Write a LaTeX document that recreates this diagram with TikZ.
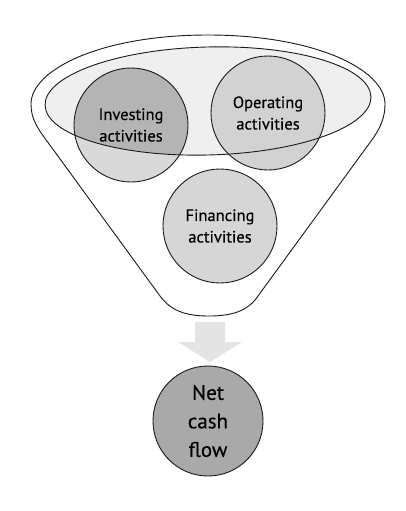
\documentclass[tikz,border=0pt]{standalone}
\usepackage{fontspec}
\newfontfamily\labfont[FakeBold=0.35]{PT Sans}
\definecolor{ellfill}{HTML}{EFEFEF}
\definecolor{invlight}{HTML}{D9D9D9}
\definecolor{invdark}{HTML}{B4B4B4}
\definecolor{opfill}{HTML}{D2D2D2}
\definecolor{finfill}{HTML}{D6D6D6}
\definecolor{netfill}{HTML}{A9A9A9}
\definecolor{arrfill}{HTML}{E4E4E4}
\definecolor{linecol}{HTML}{1A1A1A}
\tikzset{
  outline/.style={draw=linecol, line width=0.9pt},
  circtext/.style={circle, outline, minimum size=114pt, inner sep=0pt, align=center,
    font=\labfont\fontsize{16.5}{21.5}\selectfont, text=black},
  nettext/.style={circle, outline, minimum size=110pt, inner sep=0pt, align=center,
    font=\labfont\fontsize{21}{28.5}\selectfont, fill=netfill, text=black},
  ellshape/.style={rotate around={1.5:(208,101)}}
}
\begin{document}
\begin{tikzpicture}[x=1pt,y=-1pt]
\useasboundingbox (0,0) rectangle (406,511);
% coordinates
\coordinate (ic) at (131,125);
\coordinate (oc) at (268,113);
\coordinate (ec) at (208,101);
% funnel outline
\draw[outline, fill=white] (208,35) .. controls (100,35) and (31,70) .. (31,104)
  .. controls (31,117) and (36,126) .. (44,137) -- (160,296)
  .. controls (171,311) and (186,316) .. (209,316)
  .. controls (232,316) and (248,311) .. (258,296) -- (374,137)
  .. controls (381,126) and (385,117) .. (385,104)
  .. controls (385,70) and (316,35) .. (208,35) -- cycle;
% inner ellipse fill
\fill[ellfill, ellshape] (ec) ellipse [x radius=163, y radius=54];
% circle fills
\fill[invlight] (ic) circle (57);
\fill[opfill] (oc) circle (57);
\begin{scope}
  \clip[ellshape] (ec) ellipse [x radius=163, y radius=54];
  \fill[invdark] (ic) circle (57);
\end{scope}
% ellipse outline
\draw[outline, ellshape] (ec) ellipse [x radius=163, y radius=54];
% circle nodes
\node[circtext] (inv) at (ic) {Investing\\activities};
\node[circtext] (op) at (oc) {Operating\\activities};
\node[circtext, fill=finfill] (fin) at (220,226) {Financing\\activities};
% arrow
\fill[arrfill] (195,322) -- (225,322) -- (225,342) -- (242,342) -- (210,362)
  -- (178,342) -- (195,342) -- cycle;
% net cash flow
\node[nettext] (net) at (208,421) {Net\\cash\\flow};
\end{tikzpicture}
\end{document}
